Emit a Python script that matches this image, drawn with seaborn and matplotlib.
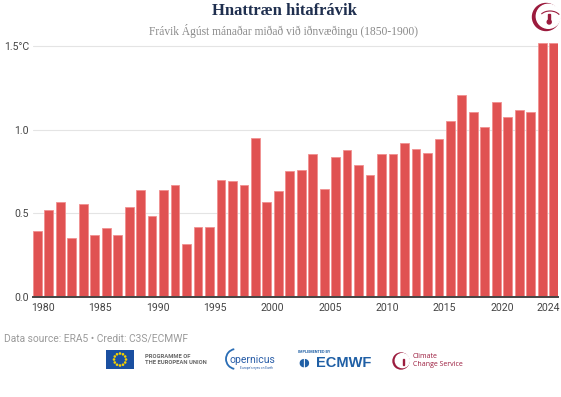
import matplotlib
matplotlib.use("Agg")
import matplotlib.pyplot as plt
import seaborn as sns
import pandas as pd
import numpy as np
from matplotlib.patches import Rectangle, Arc, Circle

years = list(range(1979, 2025))
values = [0.397, 0.523, 0.571, 0.354, 0.559, 0.370, 0.414, 0.370, 0.537, 0.640,
          0.485, 0.640, 0.668, 0.320, 0.421, 0.421, 0.700, 0.696, 0.672, 0.949,
          0.569, 0.632, 0.755, 0.760, 0.853, 0.644, 0.837, 0.879, 0.787, 0.728,
          0.853, 0.853, 0.919, 0.883, 0.861, 0.944, 1.050, 1.207, 1.104, 1.014,
          1.165, 1.074, 1.118, 1.104, 1.515, 1.515]
tick_years = [1980, 1985, 1990, 1995, 2000, 2005, 2010, 2015, 2020, 2024]
y_ticks = [0.0, 0.5, 1.0, 1.5]
y_labels = ["0.0", "0.5", "1.0", "1.5°C"]

title = "Hnattræn hitafrávik"
subtitle = "Frávik Ágúst mánaðar miðað við iðnvæðingu (1850-1900)"
source = "Data source: ERA5 • Credit: C3S/ECMWF"

df = pd.DataFrame({"year": [str(y) for y in years], "value": values})

sns.set_theme(style="white")
plt.rcParams['font.family'] = ['Roboto', 'DejaVu Sans']

W, H = 561, 397
fig = plt.figure(figsize=(W / 100, H / 100), dpi=100)
ax = fig.add_axes([33 / W, 1 - 297.3 / H, (558 - 33) / W, (297.3 - 42.5) / H])

sns.barplot(data=df, x="year", y="value", color="#e05252", saturation=1,
            width=0.76, edgecolor="#f19090", linewidth=0.6, ax=ax, zorder=3)

ax.set_xlim(-0.38, len(years) - 1 + 0.38)
ax.set_ylim(0, 1.52)
ax.set_xlabel("")
ax.set_ylabel("")

ax.set_yticks(y_ticks)
ax.set_yticklabels(y_labels)
ax.set_xticks([y - years[0] - 0.5 for y in tick_years])
ax.set_xticklabels([str(y) for y in tick_years])
ax.tick_params(axis="both", length=0, labelsize=7.6, labelcolor="#444444")
ax.tick_params(axis="y", pad=3)
ax.tick_params(axis="x", pad=4)

for s in ["top", "right", "left"]:
    ax.spines[s].set_visible(False)
ax.spines["bottom"].set_color("#444444")
ax.spines["bottom"].set_linewidth(1.4)
ax.spines["bottom"].set_zorder(5)
ax.yaxis.grid(True, color="#e4e4e4", linewidth=0.8, zorder=0)
ax.set_axisbelow(True)

fig.text(284 / W, 1 - 11 / H, title, ha="center", va="center",
         fontsize=12, fontweight="bold", color="#1f2f4f", family="Liberation Serif")
fig.text(283 / W, 1 - 30.5 / H, subtitle, ha="center", va="center",
         fontsize=8.3, color="#8a8a8a", family="Liberation Serif")
fig.text(4 / W, 1 - 338 / H, source, ha="left", va="center",
         fontsize=7.4, color="#9a9a9a")

# top-right logo (Climate Change Service emblem): crescent + thermometer
red = "#9b1b3d"
fig.patches.append(Circle((546, H - 17), 13.5, transform=None, color=red))
fig.patches.append(Circle((548.3, H - 16.3), 12.0, transform=None, color="white"))
fig.patches.append(Arc((550, H - 19), 22, 16, theta1=25, theta2=150,
                       transform=None, color=red, linewidth=0.8))
fig.patches.append(Rectangle((548.3, H - 21), 1.8, 7, transform=None, color=red))
fig.patches.append(Circle((549.2, H - 22), 2.0, transform=None, color=red))

# bottom logos
fig.patches.append(Rectangle((106, H - 369), 28, 19, transform=None,
                             facecolor="#1a4fa0", edgecolor="none"))
for a in np.linspace(0, 2 * np.pi, 12, endpoint=False):
    fig.patches.append(Circle((120 + 6 * np.cos(a), H - 359.5 + 6 * np.sin(a)), 0.6,
                              transform=None, color="#f5d000"))
fig.text(145 / W, 1 - 356 / H, "PROGRAMME OF", fontsize=4.2, color="#666666",
         ha="left", va="center", fontweight="bold")
fig.text(145 / W, 1 - 363 / H, "THE EUROPEAN UNION", fontsize=4.2, color="#666666",
         ha="left", va="center", fontweight="bold")
fig.patches.append(Arc((236, H - 359), 20, 20, theta1=100, theta2=260,
                       transform=None, color="#2a6db5", linewidth=1.3))
fig.text(229 / W, 1 - 360 / H, "opernicus", fontsize=7.5, color="#2a5ea8",
         ha="left", va="center")
fig.text(240 / W, 1 - 368 / H, "Europe's eyes on Earth", fontsize=2.3, color="#2a5ea8",
         ha="left", va="center")
fig.text(298 / W, 1 - 352 / H, "IMPLEMENTED BY", fontsize=2.8, color="#1f5fa5",
         ha="left", va="center", fontweight="bold")
fig.text(298 / W, 1 - 363 / H, "◖◗", fontsize=8, color="#1f5fa5",
         ha="left", va="center", family="DejaVu Sans")
fig.text(316 / W, 1 - 363 / H, "ECMWF", fontsize=10.5, color="#1f5fa5",
         ha="left", va="center", fontweight="bold", family="Liberation Sans")
fig.patches.append(Circle((401, H - 361), 8, transform=None, color=red))
fig.patches.append(Circle((402.3, H - 360.6), 7.0, transform=None, color="white"))
fig.patches.append(Rectangle((402.5, H - 365), 1.3, 6, transform=None, color=red))
fig.text(413 / W, 1 - 357 / H, "Climate", fontsize=5, color=red,
         ha="left", va="center", family="Open Sans")
fig.text(413 / W, 1 - 365 / H, "Change Service", fontsize=5, color=red,
         ha="left", va="center", family="Open Sans")

fig.savefig("out.png", dpi=100)
